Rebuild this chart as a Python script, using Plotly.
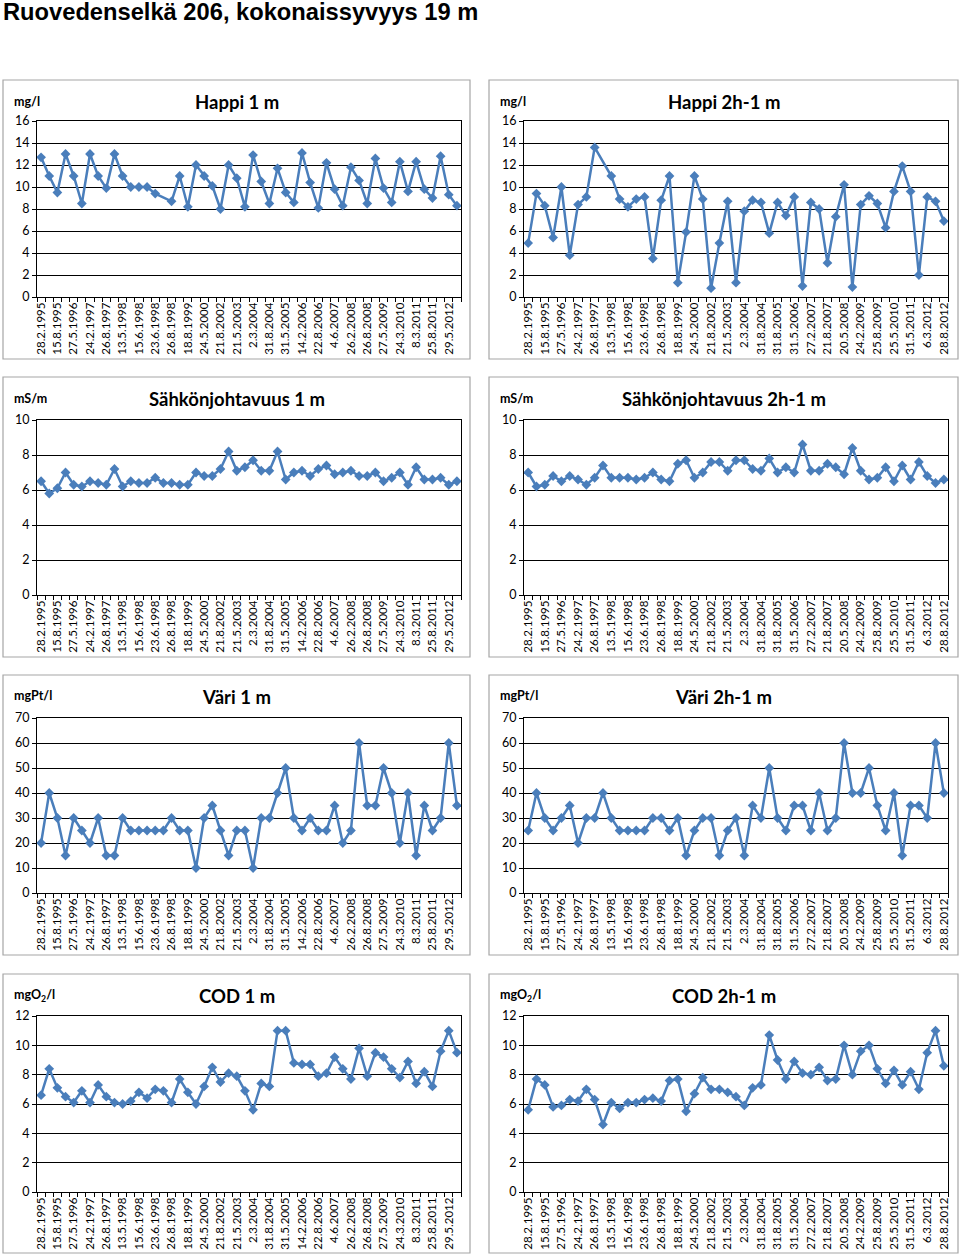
import plotly.graph_objects as go

# ---------------- data ----------------
labels_1m = ["28.2.1995", "15.8.1995", "27.5.1996", "24.2.1997", "26.8.1997", "13.5.1998",
             "15.6.1998", "23.6.1998", "26.8.1998", "18.8.1999", "24.5.2000", "21.8.2002",
             "21.5.2003", "2.3.2004", "31.8.2004", "31.5.2005", "14.2.2006", "22.8.2006",
             "4.6.2007", "26.2.2008", "26.8.2008", "27.5.2009", "24.3.2010", "8.3.2011",
             "25.8.2011", "29.5.2012"]
labels_2h = ["28.2.1995", "15.8.1995", "27.5.1996", "24.2.1997", "26.8.1997", "13.5.1998",
             "15.6.1998", "23.6.1998", "26.8.1998", "18.8.1999", "24.5.2000", "21.8.2002",
             "21.5.2003", "2.3.2004", "31.8.2004", "31.8.2005", "31.5.2006", "27.2.2007",
             "21.8.2007", "20.5.2008", "24.2.2009", "25.8.2009", "25.5.2010", "31.5.2011",
             "6.3.2012", "28.8.2012"]

happi_1m = [12.7, 11.0, 9.5, 13.0, 11.0, 8.5, 13.0, 11.0, 9.9, 13.0,
            11.0, 10.0, 10.0, 10.0, 9.4, None, 8.7, 11.0, 8.2, 12.0,
            11.0, 10.1, 8.0, 12.0, 10.8, 8.2, 12.9, 10.5, 8.5, 11.7,
            9.5, 8.6, 13.1, 10.4, 8.1, 12.2, 9.8, 8.3, 11.8, 10.6,
            8.5, 12.6, 9.9, 8.6, 12.3, 9.6, 12.3, 9.8, 9.0, 12.8,
            9.3, 8.3]
happi_2h = [4.9, 9.4, 8.3, 5.4, 10.0, 3.8, 8.4, 9.1, 13.6, None,
            11.0, 8.9, 8.2, 8.9, 9.1, 3.5, 8.8, 11.0, 1.3, 5.9,
            11.0, 8.9, 0.8, 4.9, 8.7, 1.3, 7.8, 8.8, 8.6, 5.8,
            8.6, 7.4, 9.1, 1.0, 8.6, 8.0, 3.1, 7.3, 10.2, 0.9,
            8.4, 9.2, 8.5, 6.3, 9.6, 11.9, 9.6, 2.0, 9.1, 8.7,
            6.9]
sahko_1m = [6.5, 5.8, 6.1, 7.0, 6.3, 6.2, 6.5, 6.4, 6.3, 7.2,
            6.2, 6.5, 6.4, 6.4, 6.7, 6.4, 6.4, 6.3, 6.3, 7.0,
            6.8, 6.8, 7.2, 8.2, 7.1, 7.3, 7.7, 7.1, 7.1, 8.2,
            6.6, 7.0, 7.1, 6.8, 7.2, 7.4, 6.9, 7.0, 7.1, 6.8,
            6.8, 7.0, 6.5, 6.7, 7.0, 6.3, 7.3, 6.6, 6.6, 6.7,
            6.3, 6.5]
sahko_2h = [7.0, 6.2, 6.3, 6.8, 6.5, 6.8, 6.6, 6.3, 6.7, 7.4,
            6.7, 6.7, 6.7, 6.6, 6.7, 7.0, 6.6, 6.5, 7.5, 7.7,
            6.7, 7.0, 7.6, 7.6, 7.1, 7.7, 7.7, 7.2, 7.1, 7.8,
            7.0, 7.3, 7.0, 8.6, 7.1, 7.1, 7.5, 7.3, 6.9, 8.4,
            7.1, 6.6, 6.7, 7.3, 6.5, 7.4, 6.6, 7.6, 6.8, 6.4,
            6.6]
vari_1m = [20, 40, 30, 15, 30, 25, 20, 30, 15, 15,
           30, 25, 25, 25, 25, 25, 30, 25, 25, 10,
           30, 35, 25, 15, 25, 25, 10, 30, 30, 40,
           50, 30, 25, 30, 25, 25, 35, 20, 25, 60,
           35, 35, 50, 40, 20, 40, 15, 35, 25, 30,
           60, 35]
vari_2h = [25, 40, 30, 25, 30, 35, 20, 30, 30, 40,
           30, 25, 25, 25, 25, 30, 30, 25, 30, 15,
           25, 30, 30, 15, 25, 30, 15, 35, 30, 50,
           30, 25, 35, 35, 25, 40, 25, 30, 60, 40,
           40, 50, 35, 25, 40, 15, 35, 35, 30, 60,
           40]
cod_1m = [6.6, 8.4, 7.1, 6.5, 6.1, 6.9, 6.1, 7.3, 6.5, 6.1,
          6.0, 6.2, 6.8, 6.4, 7.0, 6.9, 6.1, 7.7, 6.8, 6.0,
          7.2, 8.5, 7.5, 8.1, 7.9, 6.9, 5.6, 7.4, 7.2, 11.0,
          11.0, 8.8, 8.7, 8.7, 7.9, 8.1, 9.2, 8.4, 7.7, 9.8,
          7.9, 9.5, 9.2, 8.4, 7.8, 8.9, 7.4, 8.2, 7.2, 9.6,
          11.0, 9.5]
cod_2h = [5.6, 7.7, 7.3, 5.8, 5.9, 6.3, 6.2, 7.0, 6.3, 4.6,
          6.1, 5.7, 6.1, 6.1, 6.3, 6.4, 6.2, 7.6, 7.7, 5.5,
          6.7, 7.8, 7.0, 7.0, 6.8, 6.5, 5.9, 7.1, 7.3, 10.7,
          9.0, 7.7, 8.9, 8.1, 8.0, 8.5, 7.6, 7.7, 10.0, 8.0,
          9.6, 10.0, 8.4, 7.4, 8.3, 7.3, 8.2, 7.0, 9.5, 11.0,
          8.6]

page_title = "Ruovedenselkä 206, kokonaissyvyys 19 m"

panels = [
    # title, unit, values, labels, ymax, dtick, col, row
    ("Happi 1 m", "mg/l", happi_1m, labels_1m, 16, 2, 0, 0),
    ("Happi 2h-1 m", "mg/l", happi_2h, labels_2h, 16, 2, 1, 0),
    ("Sähkönjohtavuus 1 m", "mS/m", sahko_1m, labels_1m, 10, 2, 0, 1),
    ("Sähkönjohtavuus 2h-1 m", "mS/m", sahko_2h, labels_2h, 10, 2, 1, 1),
    ("Väri 1 m", "mgPt/l", vari_1m, labels_1m, 70, 10, 0, 2),
    ("Väri 2h-1 m", "mgPt/l", vari_2h, labels_2h, 70, 10, 1, 2),
    ("COD 1 m", "mgO<sub>2</sub>/l", cod_1m, labels_1m, 12, 2, 0, 3),
    ("COD 2h-1 m", "mgO<sub>2</sub>/l", cod_2h, labels_2h, 12, 2, 1, 3),
]

# ---------------- layout geometry (pixels) ----------------
W, H = 960, 1257
box_x = [(3, 470), (489, 958)]
box_y = [(80, 359), (377, 657), (675, 955), (974, 1253)]
plot_x = [(37, 461), (524, 948)]
plot_y = [(121, 297), (420, 595), (718, 893), (1016, 1192)]

LINE = "#4A7EBB"
FONT = "Lato, 'Open Sans', sans-serif"


def px(x):
    return x / W


def py(y):
    return 1 - y / H


fig = go.Figure()
shapes = []
annotations = []

for i, (title, unit, vals, labs, ymax, dt, col, row) in enumerate(panels):
    k = i + 1
    xa = "x" if k == 1 else f"x{k}"
    ya = "y" if k == 1 else f"y{k}"
    n = len(vals)
    xs = list(range(n))
    fig.add_trace(go.Scatter(
        x=xs, y=vals, xaxis=xa, yaxis=ya, mode="lines+markers",
        connectgaps=True,
        line=dict(color=LINE, width=2.5),
        marker=dict(symbol="diamond", size=7.5, color=LINE),
        showlegend=False, hoverinfo="x+y"))

    x0, x1 = plot_x[col]
    y0, y1 = plot_y[row]
    xkey = "xaxis" if k == 1 else f"xaxis{k}"
    ykey = "yaxis" if k == 1 else f"yaxis{k}"
    fig.layout[xkey] = dict(
        domain=[px(x0), px(x1)], anchor=ya, range=[-0.5, n - 0.5],
        automargin=False,
        tickmode="array", tickvals=list(range(0, n, 2)), ticktext=labs,
        tickangle=-90, ticks="", showgrid=False, zeroline=False,
        showline=True, linecolor="black", linewidth=1, mirror=True,
        tickfont=dict(family=FONT, size=11.5, color="#000"),
        minor=dict(tickmode="array", tickvals=[j - 0.5 for j in range(n + 1)],
                   ticks="outside", ticklen=4, tickcolor="black", tickwidth=1,
                   showgrid=False),
        fixedrange=True)
    fig.layout[ykey] = dict(
        domain=[py(y1), py(y0)], anchor=xa, range=[0, ymax], dtick=dt,
        automargin=False,
        tick0=0, showgrid=True, gridcolor="black", gridwidth=1,
        zeroline=False, showline=True, linecolor="black", linewidth=1,
        mirror=True, ticks="outside", ticklen=4, tickcolor="black",
        tickfont=dict(family=FONT, size=12.5, color="#000"),
        fixedrange=True)

    bx0, bx1 = box_x[col]
    by0, by1 = box_y[row]
    shapes.append(dict(type="rect", xref="paper", yref="paper",
                       x0=px(bx0), x1=px(bx1), y0=py(by1), y1=py(by0),
                       line=dict(color="#A6A6A6", width=1.2),
                       fillcolor="rgba(0,0,0,0)", layer="below"))
    annotations.append(dict(
        text=f"<b>{title}</b>", xref="paper", yref="paper",
        x=px((bx0 + bx1) / 2), y=py(by0 + 22), xanchor="center",
        yanchor="middle", showarrow=False,
        font=dict(family=FONT, size=18.5, color="#000")))
    annotations.append(dict(
        text=f"<b>{unit}</b>", xref="paper", yref="paper",
        x=px(bx0 + 9), y=py(by0 + 21), xanchor="left", yanchor="middle",
        showarrow=False, font=dict(family=FONT, size=12.5, color="#000")))

annotations.append(dict(
    text=f"<b>{page_title}</b>", xref="paper", yref="paper",
    x=px(1), y=py(12), xanchor="left", yanchor="middle", showarrow=False,
    font=dict(family="'Liberation Sans', Arial, sans-serif", size=23.7,
              color="#000")))

fig.update_layout(
    template="none",
    width=W, height=H, margin=dict(l=0, r=0, t=0, b=0, autoexpand=False),
    paper_bgcolor="white", plot_bgcolor="white",
    shapes=shapes, annotations=annotations)

fig.write_html(
    "out.html", config={"displayModeBar": False},
    post_script="document.body.style.margin='0px';"
                "document.body.style.overflow='hidden';")
